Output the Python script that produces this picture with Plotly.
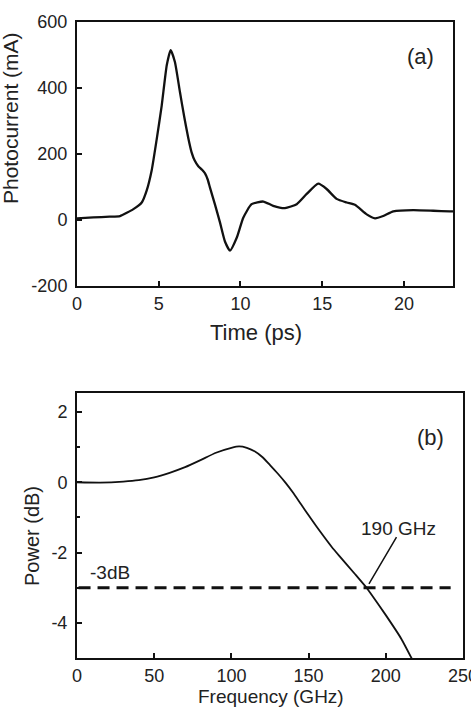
import plotly.graph_objects as go

# ---- data: panel (a) photocurrent vs time ----
time_ps = [0, 1, 2, 2.63, 3.45, 3.96, 4.26, 4.57, 4.87, 5.18, 5.49, 5.73, 5.99, 6.3, 6.55,
           6.8, 7.01, 7.2, 7.42, 7.65, 7.83, 8.0, 8.13, 8.45, 8.75, 9.05, 9.36, 9.77, 10.17,
           10.68, 11.4, 12.0, 12.72, 13.44, 14.05, 14.76, 15.27, 15.88, 16.5, 17.0, 17.72,
           18.23, 18.73, 19.35, 20.57, 21.79, 22.8, 23]
photocurrent = [5, 8, 10, 12, 33, 53, 89, 151, 243, 346, 469, 515, 479, 387, 315,
                250, 205, 180, 163, 152, 141, 122, 99, 45, -8, -65, -93, -54, 7,
                48, 56, 43, 36, 48, 79, 110, 94, 64, 53, 46, 17,
                5, 12, 26, 30, 28, 26, 26]

# ---- data: panel (b) power vs frequency ----
freq_ghz = [0, 15, 30, 40, 50, 60, 70, 80, 90, 100, 105, 110, 115, 120, 125, 130,
            135, 140, 145, 150, 155, 160, 165, 170, 180, 187.5, 190, 200, 210, 217, 219]
power_db = [0, -0.01, 0.02, 0.06, 0.14, 0.27, 0.43, 0.63, 0.84, 0.98, 1.02, 0.98, 0.88,
            0.72, 0.49, 0.25, -0.01, -0.3, -0.62, -0.94, -1.25, -1.55, -1.84, -2.1,
            -2.61, -3.0, -3.15, -3.78, -4.45, -5.03, -5.2]
ref_level_db = -3
ref_freq_span = [1, 242]

x_ticks_a = [0, 5, 10, 15, 20]
y_ticks_a = [-200, 0, 200, 400, 600]
x_ticks_b = [0, 50, 100, 150, 200, 250]
y_ticks_b = [-4, -2, 0, 2]

W, H = 471, 707
FONT = "Liberation Sans, Arial, sans-serif"

fig = go.Figure()
fig.add_trace(go.Scatter(x=time_ps, y=photocurrent, mode="lines",
                         line=dict(color="#111", width=2.3, shape="spline", smoothing=0.5),
                         xaxis="x", yaxis="y", showlegend=False))
fig.add_trace(go.Scatter(x=freq_ghz, y=power_db, mode="lines",
                         line=dict(color="#111", width=1.8, shape="spline", smoothing=0.5),
                         xaxis="x2", yaxis="y2", showlegend=False))
fig.add_trace(go.Scatter(x=ref_freq_span, y=[ref_level_db, ref_level_db], mode="lines",
                         line=dict(color="#111", width=3, dash="12px,7px"),
                         xaxis="x2", yaxis="y2", showlegend=False))

axis_common = dict(showgrid=False, zeroline=False, showline=True, linecolor="#111", linewidth=2,
                   mirror=True, ticks="inside", ticklen=5, tickwidth=1.5, tickcolor="#111",
                   ticklabeloverflow="allow", automargin=False,
                   tickfont=dict(family=FONT, size=18, color="#222"))


def px_x(p):
    return p / W


def px_y(p):
    return 1 - p / H


def labels(vals):
    return [str(v) for v in vals]


fig.update_layout(
    width=W, height=H, margin=dict(l=0, r=0, t=0, b=0, pad=0, autoexpand=False),
    paper_bgcolor="white", plot_bgcolor="white",
    xaxis=dict(domain=[px_x(77), px_x(453)], range=[0, 23], tickvals=x_ticks_a,
               ticktext=labels(x_ticks_a), anchor="y", **axis_common),
    yaxis=dict(domain=[px_y(286), px_y(22)], range=[-200, 600], tickvals=y_ticks_a,
               ticktext=labels(y_ticks_a), anchor="x", ticklabelstandoff=4, **axis_common),
    xaxis2=dict(domain=[px_x(77), px_x(463)], range=[0, 250], tickvals=x_ticks_b,
                ticktext=labels(x_ticks_b), anchor="y2", **axis_common),
    yaxis2=dict(domain=[px_y(658), px_y(393)], range=[-5, 2.54], tickvals=y_ticks_b,
                ticktext=labels(y_ticks_b), anchor="x2", ticklabelstandoff=4,
                minor=dict(dtick=1, ticks="inside", ticklen=3, tickcolor="#111"), **axis_common),
)

txt = dict(family=FONT, color="#222")
annotations = [
    dict(text="Photocurrent (mA)", x=px_x(11), y=px_y(118), xref="paper", yref="paper", textangle=-90,
         showarrow=False, font=dict(size=21, **txt), xanchor="center", yanchor="middle"),
    dict(text="Time (ps)", x=px_x(256), y=px_y(332), xref="paper", yref="paper",
         showarrow=False, font=dict(size=22, **txt), xanchor="center", yanchor="middle"),
    dict(text="Power (dB)", x=px_x(32), y=px_y(536), xref="paper", yref="paper", textangle=-90,
         showarrow=False, font=dict(size=20, **txt), xanchor="center", yanchor="middle"),
    dict(text="Frequency (GHz)", x=px_x(271), y=px_y(696), xref="paper", yref="paper",
         showarrow=False, font=dict(size=19, **txt), xanchor="center", yanchor="middle"),
    dict(text="(a)", x=21.0, y=495, xref="x", yref="y", showarrow=False,
         font=dict(size=22, **txt), xanchor="center", yanchor="middle"),
    dict(text="(b)", x=229, y=1.26, xref="x2", yref="y2", showarrow=False,
         font=dict(size=22, **txt), xanchor="center", yanchor="middle"),
    dict(text="-3dB", x=21.4, y=-2.57, xref="x2", yref="y2", showarrow=False,
         font=dict(size=19, **txt), xanchor="center", yanchor="middle"),
    dict(text="190 GHz", x=208, y=-1.31, xref="x2", yref="y2", showarrow=False,
         font=dict(size=19, **txt), xanchor="center", yanchor="middle"),
    dict(text="", x=189.1, y=-2.89, xref="x2", yref="y2", ax=207.5, ay=-1.52, axref="x2", ayref="y2",
         showarrow=True, arrowhead=0, arrowwidth=1.5, arrowcolor="#111", standoff=0, startstandoff=0),
]
fig.update_layout(annotations=annotations)

fig.write_html("out.html")
